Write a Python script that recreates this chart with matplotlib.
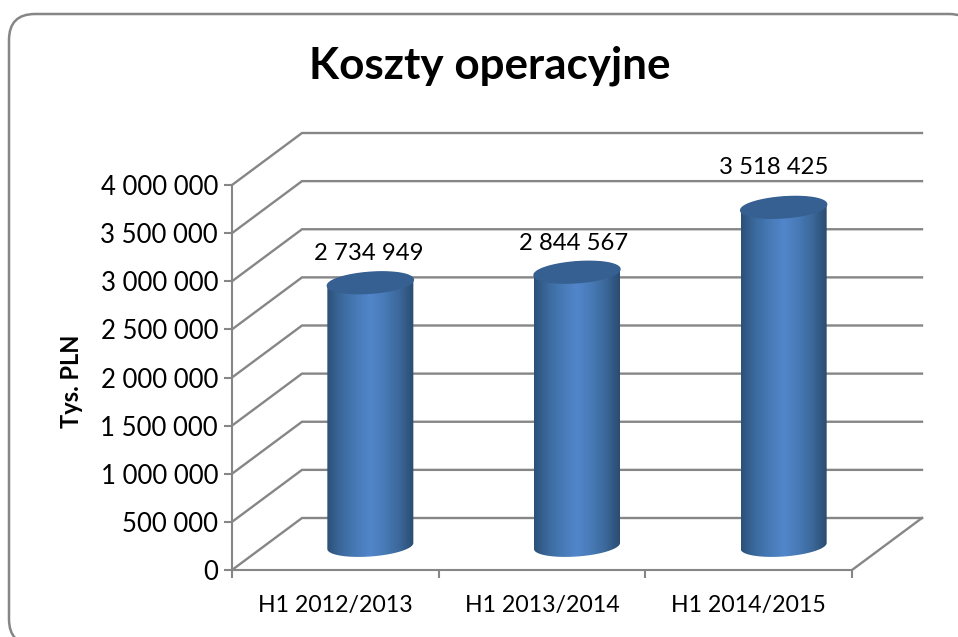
import numpy as np
import matplotlib
matplotlib.use('Agg')
import matplotlib.pyplot as plt
from matplotlib.colors import LinearSegmentedColormap
from matplotlib.patches import FancyBboxPatch, Polygon

plt.rcParams['font.family'] = ['Lato', 'DejaVu Sans']

# dane z wykresu
kategorie = ['H1 2012/2013', 'H1 2013/2014', 'H1 2014/2015']
koszty = [2734949, 2844567, 3518425]
etykiety = ['2 734 949', '2 844 567', '3 518 425']
wartosci_osi = [0, 500000, 1000000, 1500000, 2000000, 2500000, 3000000, 3500000, 4000000]
etykiety_osi = ['0', '500 000', '1 000 000', '1 500 000', '2 000 000',
                '2 500 000', '3 000 000', '3 500 000', '4 000 000']
# przesuniecia etykiet danych w pikselach
etykiety_dx = [-2, -3, -10]
etykiety_dy = [29, 29, 40]

SZARY = '#868686'
W, H = 958, 637

fig = plt.figure(figsize=(W / 100, H / 100), dpi=100, facecolor='white')

# tlo calej figury z ramka
tlo = fig.add_axes([0, 0, 1, 1])
tlo.set_xlim(0, W)
tlo.set_ylim(H, 0)
tlo.axis('off')
tlo.add_patch(FancyBboxPatch((9, 14), 966, 631, boxstyle='round,pad=0,rounding_size=26',
                             fc='white', ec=SZARY, lw=1.8))
tlo.text(490, 66, 'Koszty operacyjne', ha='center', va='center', fontsize=31.7,
         fontweight='bold', color='black')

# os glowna = przednia plaszczyzna wykresu
x0, x1, y0, y1 = 232, 852, 570, 185
ax = fig.add_axes([x0 / W, 1 - y0 / H, (x1 - x0) / W, (y0 - y1) / H])
ax.set_xlim(0, 3)
ax.set_ylim(0, 4000000)
ax.patch.set_alpha(0)

gl_x = 70 / (x1 - x0) * 3
gl_y = 52 / (y0 - y1) * 4000000

for w in wartosci_osi:
    ax.plot([0, gl_x, 3 + gl_x], [w, w + gl_y, w + gl_y],
            color=SZARY, lw=1.7, clip_on=False, solid_joinstyle='miter', zorder=1)
ax.plot([3, 3 + gl_x], [0, gl_y], color=SZARY, lw=1.7, clip_on=False, zorder=1)

for s in ['top', 'right']:
    ax.spines[s].set_visible(False)
for s in ['left', 'bottom']:
    ax.spines[s].set_color(SZARY)
    ax.spines[s].set_linewidth(1.5)

ax.set_yticks(wartosci_osi)
ax.set_yticklabels(etykiety_osi)
ax.set_xticks([0, 1, 2, 3])
ax.set_xticklabels([])
ax.tick_params(axis='both', color=SZARY, width=1.5, length=6, labelsize=18.5, pad=4, labelcolor='black')
ax.set_ylabel('Tys. PLN', fontsize=17, fontweight='bold', labelpad=0)
ax.yaxis.set_label_coords((83 - x0) / (x1 - x0), 0.49)
for i, k in enumerate(kategorie):
    ax.text(i + 0.5, -364000, k, ha='center', va='center', fontsize=16.7)

# walce
cmap = LinearSegmentedColormap.from_list('walec', ['#2c5178', '#3c6a9f', '#477ab6', '#5286cb',
                                                   '#477ab6', '#3c689b', '#2a4c70'])
a = 43 / (x1 - x0) * 3
px = 4000000 / (y0 - y1)
b = 10.5 * px
k = 3 * px
t = np.linspace(0, 2 * np.pi, 120)
for i, v in enumerate(koszty):
    cx = i + 0.5 + gl_x / 2
    dol = gl_y / 2 - 2 * px
    gora = dol + v
    # obrys walca: dolna polowa elipsy u dolu, gorna polowa elipsy u gory
    td = np.linspace(np.pi, 2 * np.pi, 60)
    tg = np.linspace(0, np.pi, 60)
    xs = np.r_[cx + a * np.cos(td), cx + a * np.cos(tg)]
    ys = np.r_[dol + b * np.sin(td) + k * np.cos(td), gora + b * np.sin(tg) + k * np.cos(tg)]
    body = Polygon(np.c_[xs, ys], closed=True, fc='none', ec='none', clip_on=False)
    ax.add_patch(body)
    im = ax.imshow(np.linspace(0, 1, 200).reshape(1, -1), cmap=cmap, aspect='auto',
                   extent=[cx - a, cx + a, dol - 2 * b, gora + 2 * b], zorder=3, clip_on=True)
    im.set_clip_path(body)
    # wieczko
    ax.fill(cx + a * np.cos(t), gora + b * np.sin(t) + k * np.cos(t), color='#376092',
            zorder=4, clip_on=False)
    ax.text(cx + etykiety_dx[i] / (x1 - x0) * 3, gora + etykiety_dy[i] * px, etykiety[i],
            ha='center', va='center', fontsize=17.2, zorder=5, clip_on=False)

ax.set_xlim(0, 3)
ax.set_ylim(0, 4000000)

fig.savefig('out.png', dpi=100, facecolor='white')
